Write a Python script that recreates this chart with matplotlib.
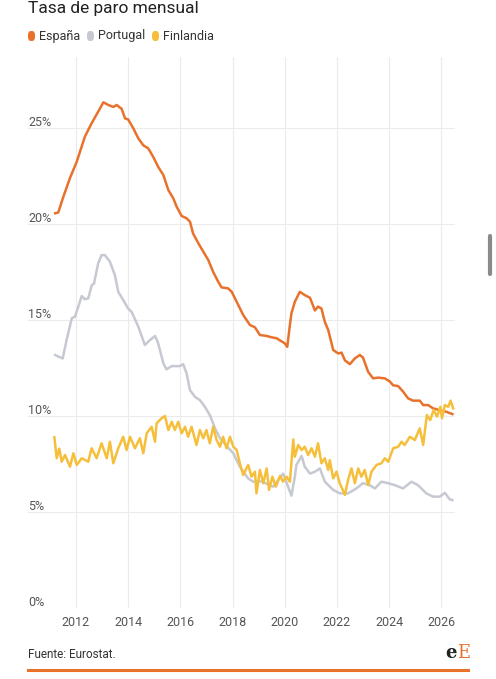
import matplotlib
matplotlib.use("Agg")
import matplotlib.pyplot as plt
from matplotlib.lines import Line2D
from matplotlib.patches import FancyBboxPatch

plt.rcParams['font.family'] = ['Roboto', 'DejaVu Sans']

# datos (fecha en años decimales, tasa en %)
espanaX = [2011.20, 2011.32, 2011.51, 2011.77, 2012.03, 2012.34, 2012.60, 2012.85, 2013.05, 2013.24,
           2013.43, 2013.56, 2013.75, 2013.88, 2014.00, 2014.20, 2014.39, 2014.58, 2014.77, 2014.96,
           2015.15, 2015.35, 2015.54, 2015.73, 2015.86, 2016.05, 2016.24, 2016.37, 2016.49, 2016.69,
           2016.88, 2017.07, 2017.26, 2017.45, 2017.58, 2017.83, 2017.97, 2018.16, 2018.41, 2018.67,
           2018.86, 2019.05, 2019.31, 2019.50, 2019.69, 2020.00, 2020.10, 2020.20, 2020.26, 2020.39,
           2020.58, 2020.77, 2020.97, 2021.16, 2021.28, 2021.41, 2021.54, 2021.67, 2021.86, 2022.05,
           2022.18, 2022.31, 2022.50, 2022.69, 2022.88, 2023.00, 2023.20, 2023.39, 2023.58, 2023.84,
           2024.03, 2024.16, 2024.35, 2024.54, 2024.73, 2024.92, 2025.18, 2025.31, 2025.50, 2025.69,
           2025.95, 2026.20, 2026.43]
espanaY = [20.56, 20.6, 21.4, 22.4, 23.25, 24.55, 25.25, 25.85, 26.34, 26.2,
           26.1, 26.2, 26.0, 25.5, 25.45, 24.98, 24.46, 24.1, 23.94, 23.5,
           22.98, 22.55, 21.77, 21.34, 20.9, 20.42, 20.3, 20.12, 19.5, 19.0,
           18.56, 18.13, 17.5, 17.0, 16.7, 16.65, 16.47, 15.95, 15.26, 14.74,
           14.62, 14.22, 14.17, 14.1, 14.05, 13.79, 13.6, 14.74, 15.35, 15.95,
           16.47, 16.3, 16.16, 15.5, 15.7, 15.6, 14.9, 14.48, 13.44, 13.26,
           13.3, 12.9, 12.7, 13.0, 13.18, 13.05, 12.3, 11.96, 12.0, 11.96,
           11.8, 11.6, 11.56, 11.27, 10.92, 10.8, 10.8, 10.57, 10.57, 10.4,
           10.3, 10.22, 10.1]

portugalX = [2011.20, 2011.32, 2011.49, 2011.64, 2011.84, 2011.96, 2012.09, 2012.22, 2012.34, 2012.47,
             2012.60, 2012.69, 2012.85, 2012.98, 2013.11, 2013.30, 2013.49, 2013.62, 2013.81, 2014.00,
             2014.13, 2014.39, 2014.64, 2014.84, 2015.03, 2015.15, 2015.35, 2015.47, 2015.67, 2015.98,
             2016.11, 2016.24, 2016.37, 2016.56, 2016.75, 2016.94, 2017.13, 2017.33, 2017.52, 2017.80,
             2018.03, 2018.28, 2018.60, 2018.79, 2019.10, 2019.56, 2019.94, 2020.13, 2020.26, 2020.39,
             2020.45, 2020.65, 2020.77, 2020.97, 2021.16, 2021.35, 2021.54, 2021.86, 2022.11, 2022.43,
             2022.75, 2023.00, 2023.26, 2023.46, 2023.71, 2023.97, 2024.22, 2024.54, 2024.86, 2025.11,
             2025.43, 2025.69, 2025.95, 2026.14, 2026.33, 2026.43]
portugalY = [13.18, 13.1, 13.0, 13.96, 15.1, 15.17, 15.7, 16.25, 16.08, 16.13,
             16.8, 16.9, 17.95, 18.38, 18.38, 18.04, 17.34, 16.47, 16.04, 15.6,
             15.43, 14.65, 13.7, 13.96, 14.17, 13.79, 12.74, 12.43, 12.6, 12.6,
             12.7, 12.22, 11.35, 11.0, 10.83, 10.48, 10.05, 9.36, 8.84, 8.4,
             8.06, 7.36, 6.75, 6.58, 6.6, 6.32, 7.0, 6.32, 5.85, 6.84,
             7.45, 7.92, 7.36, 7.0, 7.1, 7.27, 6.58, 6.15, 5.97, 5.97,
             6.23, 6.5, 6.4, 6.23, 6.58, 6.5, 6.4, 6.23, 6.58, 6.4,
             5.97, 5.8, 5.8, 6.0, 5.66, 5.62]

finlandiaX = [2011.17, 2011.26, 2011.36, 2011.45, 2011.58, 2011.77, 2011.90, 2012.03, 2012.22, 2012.47,
              2012.60, 2012.79, 2012.98, 2013.18, 2013.30, 2013.43, 2013.62, 2013.81, 2013.94, 2014.07,
              2014.26, 2014.45, 2014.58, 2014.71, 2014.90, 2015.03, 2015.09, 2015.28, 2015.41, 2015.54,
              2015.67, 2015.79, 2015.92, 2016.05, 2016.18, 2016.30, 2016.43, 2016.62, 2016.75, 2016.88,
              2017.00, 2017.13, 2017.26, 2017.39, 2017.52, 2017.64, 2017.77, 2017.90, 2018.03, 2018.16,
              2018.28, 2018.41, 2018.60, 2018.73, 2018.86, 2018.92, 2019.05, 2019.18, 2019.31, 2019.40,
              2019.53, 2019.66, 2019.82, 2019.94, 2020.07, 2020.20, 2020.33, 2020.39, 2020.52, 2020.65,
              2020.77, 2020.90, 2021.03, 2021.16, 2021.28, 2021.41, 2021.54, 2021.67, 2021.73, 2021.86,
              2021.99, 2022.11, 2022.31, 2022.43, 2022.56, 2022.69, 2022.82, 2022.94, 2023.07, 2023.20,
              2023.33, 2023.52, 2023.71, 2023.84, 2023.97, 2024.16, 2024.35, 2024.48, 2024.60, 2024.80,
              2024.99, 2025.18, 2025.31, 2025.45, 2025.58, 2025.71, 2025.84, 2025.97, 2026.03, 2026.14,
              2026.27, 2026.36, 2026.46]
finlandiaY = [8.9, 7.8, 8.3, 7.62, 7.97, 7.36, 8.06, 7.45, 7.8, 7.62,
              8.32, 7.8, 8.58, 7.8, 8.66, 7.54, 8.32, 8.92, 8.23, 8.92,
              8.32, 8.84, 8.06, 9.1, 9.44, 8.66, 9.62, 9.88, 10.0, 9.27,
              9.7, 9.27, 9.7, 9.1, 9.44, 8.92, 9.44, 8.49, 9.27, 8.84,
              9.27, 8.58, 9.44, 8.75, 8.4, 8.92, 8.32, 8.92, 8.4, 8.23,
              7.54, 6.93, 7.45, 6.84, 7.1, 5.97, 7.19, 6.5, 7.27, 6.15,
              6.84, 6.32, 6.88, 6.58, 6.84, 6.58, 8.78, 7.88, 8.49, 8.23,
              8.4, 7.97, 8.32, 7.88, 8.58, 7.54, 7.8, 7.19, 7.7, 6.75,
              7.1, 6.5, 5.89, 6.67, 7.27, 6.5, 7.27, 6.84, 7.19, 6.4,
              7.1, 7.45, 7.54, 7.8, 7.62, 8.32, 8.4, 8.66, 8.49, 8.92,
              8.75, 9.36, 8.49, 10.05, 9.79, 10.31, 9.97, 10.48, 9.88, 10.57,
              10.48, 10.8, 10.4]

paises = ["España", "Portugal", "Finlandia"]
colores = ["#e8722c", "#c6c9d1", "#f6bf3b"]
anios = [2012, 2014, 2016, 2018, 2020, 2022, 2024, 2026]
porcentajes = [0, 5, 10, 15, 20, 25]

W, H = 496, 679
fig = plt.figure(figsize=(W / 100, H / 100), dpi=100)
fig.patch.set_facecolor("white")

# ejes: izquierda 28px, derecha 455px, arriba 57px, abajo 608px
ax = fig.add_axes([28 / W, 1 - 608 / H, (455 - 28) / W, (608 - 57) / H])
ax.set_xlim(2010.16, 2026.53)
ax.set_ylim(0, 28.7)
for s in ax.spines.values():
    s.set_visible(False)
ax.set_xticks([])
ax.set_yticks([])

for a in anios:
    ax.axvline(a, color="#ebebeb", linewidth=0.8, zorder=0, ymax=1.0)
for p in porcentajes:
    ax.axhline(p, color="#ebebeb", linewidth=0.8, zorder=0)
    ax.text(2010.16, p + 0.12, str(p) + "%", fontsize=9, color="#555555", ha="left", va="baseline")
for a in anios:
    ax.text(a, -0.75, str(a), fontsize=9, color="#555555", ha="center", va="center")

ax.plot(portugalX, portugalY, color=colores[1], linewidth=1.8, zorder=2, solid_joinstyle="round")
ax.plot(espanaX, espanaY, color=colores[0], linewidth=1.8, zorder=3, solid_joinstyle="round")
ax.plot(finlandiaX, finlandiaY, color=colores[2], linewidth=1.8, zorder=4, solid_joinstyle="round")

# titulo (cortado arriba en la captura)
fig.text(28 / W, 1 - 13 / H, "Tasa de paro mensual", fontsize=12.5, color="#222222", ha="left", va="baseline")

# leyenda
legX = [28, 87, 152]
for i in range(3):
    fig.patches.append(FancyBboxPatch((legX[i] / W, 1 - 41 / H), 7 / W, 10 / H,
                                      boxstyle="round,pad=0,rounding_size=0.006",
                                      transform=fig.transFigure, facecolor=colores[i], edgecolor="none"))
    fig.text((legX[i] + 11) / W, 1 - 36 / H, paises[i], fontsize=9, color="#333333", ha="left", va="center")

# pie
fig.text(28 / W, 1 - 654 / H, "Fuente: Eurostat.", fontsize=8.5, color="#333333", ha="left", va="center")
fig.text(457 / W, 1 - 653 / H, "e", fontsize=13, family="DejaVu Serif", weight="bold", color="#222222", ha="right", va="center")
fig.text(457 / W, 1 - 653 / H, "E", fontsize=13, family="DejaVu Serif", color="#e8722c", ha="left", va="center")
fig.add_artist(Line2D([28 / W, 468 / W], [1 - 670 / H, 1 - 670 / H], color="#e8722c", linewidth=2.2))

# barra de desplazamiento de la captura
fig.add_artist(Line2D([490 / W, 490 / W], [1 - 236 / H, 1 - 274 / H], color="#8a8a8a", linewidth=3, solid_capstyle="round"))

fig.savefig("out.png", dpi=100)
